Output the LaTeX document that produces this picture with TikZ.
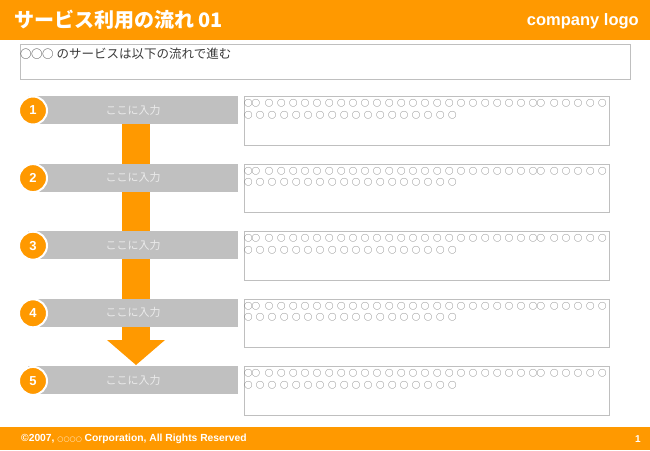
\documentclass[tikz,border=0pt]{standalone}
\usepackage{fontspec}
\setmainfont{Liberation Sans}
\newfontfamily\cjk{Noto Sans CJK JP}
\newfontfamily\dvs{DejaVu Sans}
\definecolor{orng}{HTML}{FF9900}
\definecolor{bargray}{HTML}{C0C0C0}
\definecolor{boxgray}{HTML}{BFBFBF}
\definecolor{txtgray}{HTML}{3A3A3A}
\definecolor{circgray}{HTML}{5E5E5E}
\newcommand{\oc}{○\kern3.5pt}
\newcommand{\ocfive}{\oc\oc\oc\oc\oc}
\newcommand{\lineone}{\oc\kern-4.3pt\oc\kern1.3pt\ocfive\ocfive\ocfive\ocfive\oc\oc\oc\kern-4.3pt\oc\kern1.3pt\ocfive}
\newcommand{\linetwo}{\ocfive\ocfive\ocfive\oc\oc\oc}
\tikzset{
  barbox/.style={fill=bargray, minimum width=210pt, minimum height=28pt, inner sep=0pt,
    text=white!92!black, font=\cjk\fontsize{11}{11}\selectfont},
  numcirc/.style={circle, fill=orng, draw=white, line width=2pt, minimum size=28pt, inner sep=0pt,
    text=white, font=\bfseries\fontsize{13}{13}\selectfont},
  detailbox/.style={draw=boxgray, line width=1pt, minimum width=365pt, minimum height=48.5pt,
    inner sep=0pt, anchor=north west},
  circtext/.style={anchor=base west, inner sep=0pt, text=circgray,
    font=\cjk\fontsize{8.5}{8.5}\selectfont}
}
\begin{document}
\begin{tikzpicture}[x=1pt,y=-1pt]
\useasboundingbox (0,0) rectangle (650,450);
% header
\fill[orng] (0,0) rectangle (650,40);
\node[anchor=west, inner sep=0pt, text=white, font=\cjk\bfseries\fontsize{20}{20}\selectfont] (title) at (14,20) {サービス利用の流れ 01};
\node[anchor=east, inner sep=0pt, text=white, font=\bfseries\fontsize{16.5}{16.5}\selectfont] (logo) at (639,21) {company logo};
% intro
\node[draw=boxgray, line width=1.2pt, minimum width=610pt, minimum height=35pt, inner sep=0pt, anchor=north west] (intro) at (20,44) {};
\node[anchor=west, inner sep=0pt, text=txtgray, font=\cjk\fontsize{12.5}{12.5}\selectfont] (introtext) at (20,54) {{\fontsize{11.5}{11.5}\selectfont ○\kern-0.5pt○\kern-0.5pt○}\kern3pt のサービスは以下の流れで進む};
% arrow
\coordinate (shafttop) at (136,124);
\fill[orng] (122,124) rectangle (150,340);
\fill[orng] (107,340) -- (165,340) -- (136,365) -- cycle;
% steps
\foreach \i in {1,...,5} {
  \pgfmathsetmacro\cy{110+(\i-1)*67.6}
  \node[barbox] (bar\i) at (133,\cy) {ここに入力};
  \node[numcirc] (num\i) at (33,\cy+0.5) {\i};
  \node[detailbox] (box\i) at (244,\cy-14) {};
  \node[circtext] (txta\i) at (243.8,\cy-3.6) {\lineone};
  \node[circtext] (txtb\i) at (243.8,\cy+8.1) {\linetwo};
}
% footer
\fill[orng] (0,427) rectangle (650,450);
\node[anchor=west, inner sep=0pt, text=white, font=\bfseries\fontsize{10.3}{10.3}\selectfont] (copy) at (21,439) {©2007, {\dvs\mdseries\fontsize{7}{7}\selectfont\color{white!85!orng}○○○○} Corporation, All Rights Reserved};
\node[anchor=east, inner sep=0pt, text=white, font=\bfseries\fontsize{10}{10}\selectfont] (page) at (641,439) {1};
\end{tikzpicture}
\end{document}
